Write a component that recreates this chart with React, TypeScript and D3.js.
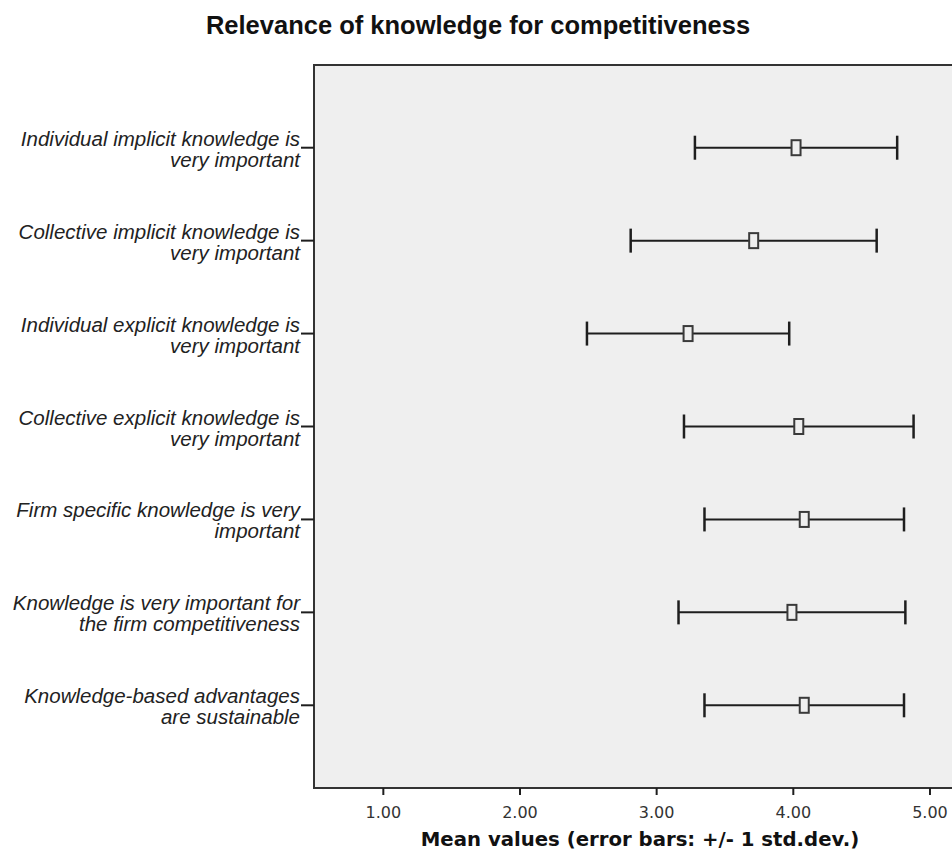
import React from "react";
import * as d3 from "d3";

// Survey items (top to bottom), each label split into its two display lines
const items = [
  "Individual implicit knowledge is|very important",
  "Collective implicit knowledge is|very important",
  "Individual explicit knowledge is|very important",
  "Collective explicit knowledge is|very important",
  "Firm specific knowledge is very|important",
  "Knowledge is very important for|the firm competitiveness",
  "Knowledge-based advantages|are sustainable",
];

// Mean value of each item and its standard deviation
const means = [4.02, 3.71, 3.23, 4.04, 4.08, 3.99, 4.08];
const stdDevs = [0.74, 0.9, 0.74, 0.84, 0.73, 0.83, 0.73];

const xTicks = [1, 2, 3, 4, 5];

const W = 952;
const H = 855;
const frame = { left: 314, top: 65, bottom: 788, right: 966 };

export default function App() {
  const x = d3.scaleLinear().domain([0.5, 5.5]).range([315, 998.3]);
  const y = d3
    .scalePoint<string>()
    .domain(items)
    .range([frame.top, frame.bottom])
    .padding(0.89);

  const fmt = d3.format(".2f");
  const ink = "#1e1e1e";
  const labelFont = "'Liberation Sans', Arial, sans-serif";

  return (
    <svg
      width={W}
      height={H}
      style={{ position: "absolute", left: 0, top: 0, background: "#fff" }}
    >
      <text
        x={W / 2 + 2}
        y={34}
        textAnchor="middle"
        fontFamily="'Liberation Sans', Arial, sans-serif"
        fontWeight="bold"
        fontSize={25.5}
        fill="#111"
      >
        Relevance of knowledge for competitiveness
      </text>

      {/* plot frame */}
      <rect
        x={frame.left}
        y={frame.top}
        width={frame.right - frame.left}
        height={frame.bottom - frame.top}
        fill="#efefef"
        stroke="#333"
        strokeWidth={2}
      />

      {/* category axis */}
      {items.map((it) => {
        const yy = y(it)!;
        const [l1, l2] = it.split("|");
        return (
          <g key={it}>
            <line x1={301} x2={frame.left} y1={yy} y2={yy} stroke={ink} strokeWidth={2} />
            <text
              x={300}
              y={yy - 2}
              textAnchor="end"
              fontFamily={labelFont}
              fontStyle="italic"
              fontSize={20.5}
              fill="#222"
            >
              {l1}
            </text>
            <text
              x={300}
              y={yy + 19}
              textAnchor="end"
              fontFamily={labelFont}
              fontStyle="italic"
              fontSize={20.5}
              fill="#222"
            >
              {l2}
            </text>
          </g>
        );
      })}

      {/* value axis */}
      {xTicks.map((t) => (
        <g key={t}>
          <line x1={x(t)} x2={x(t)} y1={frame.bottom} y2={frame.bottom + 7} stroke={ink} strokeWidth={2} />
          <text
            x={x(t)}
            y={818}
            textAnchor="middle"
            fontFamily="'DejaVu Sans', Verdana, sans-serif"
            fontSize={16}
            fill="#333"
          >
            {fmt(t)}
          </text>
        </g>
      ))}
      <text
        x={(frame.left + frame.right) / 2}
        y={846}
        textAnchor="middle"
        fontFamily="'DejaVu Sans', Verdana, sans-serif"
        fontWeight="bold"
        fontSize={19.7}
        fill="#111"
      >
        Mean values (error bars: +/- 1 std.dev.)
      </text>

      {/* error bars: mean +/- 1 standard deviation */}
      {items.map((it, i) => {
        const yy = y(it)!;
        const lo = x(means[i] - stdDevs[i]);
        const hi = x(means[i] + stdDevs[i]);
        const m = x(means[i]);
        return (
          <g key={"bar" + i}>
            <line x1={lo} x2={hi} y1={yy} y2={yy} stroke={ink} strokeWidth={2} />
            <line x1={lo} x2={lo} y1={yy - 12} y2={yy + 12} stroke={ink} strokeWidth={2.5} />
            <line x1={hi} x2={hi} y1={yy - 12} y2={yy + 12} stroke={ink} strokeWidth={2.5} />
            <rect
              x={m - 4.5}
              y={yy - 7.5}
              width={9}
              height={15}
              fill="#efefef"
              stroke="#3a3a3a"
              strokeWidth={2}
            />
          </g>
        );
      })}
    </svg>
  );
}
